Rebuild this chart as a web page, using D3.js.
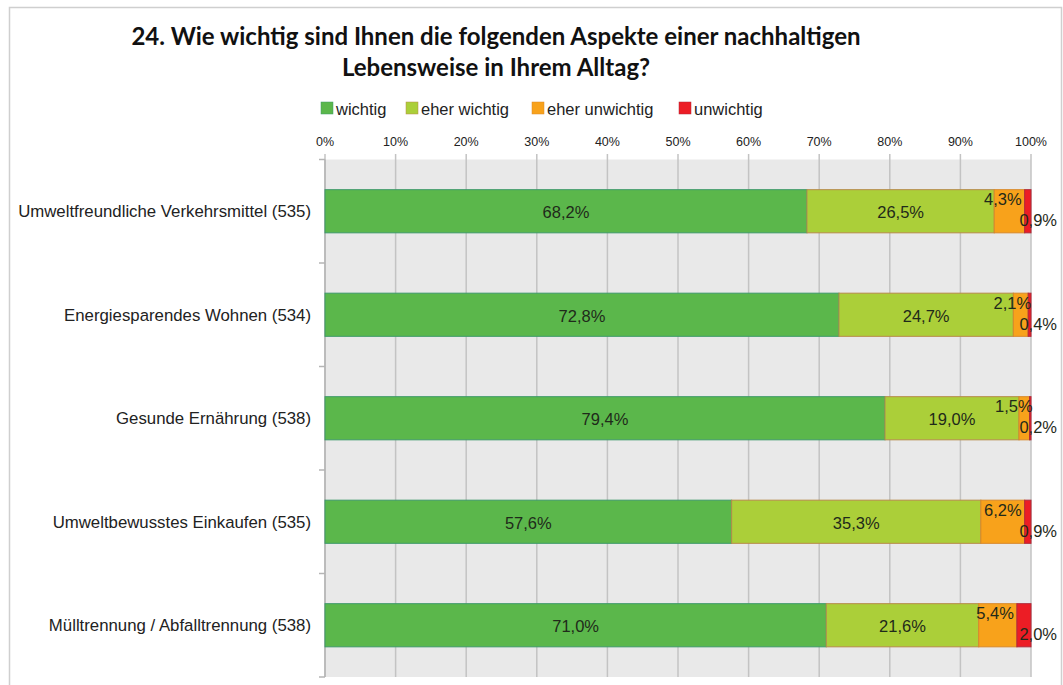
<!DOCTYPE html>
<html>
<head>
<meta charset="utf-8">
<script src="https://cdn.jsdelivr.net/npm/d3@7"></script>
<style>
  body { margin: 0; background: #fff; }
  svg { display: block; }
</style>
</head>
<body>
<svg width="1063" height="685"></svg>
<script>
var svg = d3.select("svg");

var categories = [
    "Umweltfreundliche Verkehrsmittel (535)",
    "Energiesparendes Wohnen (534)",
    "Gesunde Ernährung (538)",
    "Umweltbewusstes Einkaufen (535)",
    "Mülltrennung / Abfalltrennung (538)"
];
var seriesNames = ["wichtig", "eher wichtig", "eher unwichtig", "unwichtig"];
var wichtig = [68.2, 72.8, 79.4, 57.6, 71.0];
var eherWichtig = [26.5, 24.7, 19.0, 35.3, 21.6];
var eherUnwichtig = [4.3, 2.1, 1.5, 6.2, 5.4];
var unwichtig = [0.9, 0.4, 0.2, 0.9, 2.0];
var tickValues = [0, 10, 20, 30, 40, 50, 60, 70, 80, 90, 100];

var colors = ["#5bb74b", "#abcf39", "#f8a21b", "#ec1d25"];
var strokes = ["#3f9a6a", "#b78b4a", "#d9892a", "#b02a3a"];
var font = "'Liberation Sans', Arial, sans-serif";

var rows = categories.map(function (c, i) {
    var vals = [wichtig[i], eherWichtig[i], eherUnwichtig[i], unwichtig[i]];
    var sum = d3.sum(vals);
    var r = {cat: c};
    seriesNames.forEach(function (s, j) { r[s] = vals[j] / sum * 100; r["raw" + j] = vals[j]; });
    return r;
});

var stack = d3.stack().keys(seriesNames)(rows);

var x = d3.scaleLinear().domain([0, 100]).range([325, 1031]);
var y = d3.scaleBand().domain(categories).range([159.5, 677]).paddingInner(0.583).paddingOuter(0.2915);

// frame
svg.append("path")
    .attr("d", "M9.5,690V7.5H1061.5V690")
    .attr("fill", "none")
    .attr("stroke", "#cfcfcf")
    .attr("stroke-width", 1.5);

// title
var title = svg.append("text")
    .attr("text-anchor", "middle")
    .style("font-family", "Lato, 'Open Sans', sans-serif")
    .style("font-weight", "bold")
    .style("font-size", "24px")
    .attr("fill", "#111");
title.append("tspan").attr("x", 496).attr("y", 45).text("24. Wie wichtig sind Ihnen die folgenden Aspekte einer nachhaltigen");
title.append("tspan").attr("x", 496).attr("y", 76).text("Lebensweise in Ihrem Alltag?");

// legend
var legendX = [321, 406, 532, 679];
var legend = svg.append("g").selectAll("g")
    .data(seriesNames)
    .enter().append("g")
    .attr("transform", function (d, i) { return "translate(" + legendX[i] + ",102)"; });
legend.append("rect")
    .attr("width", 12).attr("height", 12)
    .attr("fill", function (d, i) { return colors[i]; })
    .attr("stroke", function (d, i) { return strokes[i]; })
    .attr("stroke-width", 0.5);
legend.append("text")
    .attr("x", 15).attr("y", 13)
    .style("font-family", font)
    .style("font-size", "16.5px")
    .attr("fill", "#222")
    .text(function (d) { return d; });

// plot background
svg.append("rect")
    .attr("x", x(0)).attr("y", 159.5)
    .attr("width", x(100) - x(0)).attr("height", 677 - 159.5)
    .attr("fill", "#e9e9e9");

// grid + top axis
svg.append("g").selectAll("line")
    .data(tickValues)
    .enter().append("line")
    .attr("x1", function (d) { return x(d); })
    .attr("x2", function (d) { return x(d); })
    .attr("y1", 154)
    .attr("y2", 677)
    .attr("stroke", "#c3c3c3")
    .attr("stroke-width", 1.5);

svg.append("g").selectAll("text")
    .data(tickValues)
    .enter().append("text")
    .attr("x", function (d) { return x(d); })
    .attr("y", 146)
    .attr("text-anchor", "middle")
    .style("font-family", font)
    .style("font-size", "12.5px")
    .attr("fill", "#222")
    .text(function (d) { return d + "%"; });

// left axis with ticks between categories
var leftTicks = d3.range(6).map(function (i) { return 159.5 + i * (677 - 159.5) / 5; });
svg.append("line")
    .attr("x1", x(0)).attr("x2", x(0))
    .attr("y1", 159.5).attr("y2", 677)
    .attr("stroke", "#b5b5b5").attr("stroke-width", 1.5);
svg.append("g").selectAll("line")
    .data(leftTicks)
    .enter().append("line")
    .attr("x1", x(0) - 6).attr("x2", x(0))
    .attr("y1", function (d) { return d; })
    .attr("y2", function (d) { return d; })
    .attr("stroke", "#b5b5b5").attr("stroke-width", 1.5);

svg.append("g").selectAll("text")
    .data(categories)
    .enter().append("text")
    .attr("x", 311)
    .attr("y", function (d) { return y(d) + y.bandwidth() / 2 + 6; })
    .attr("text-anchor", "end")
    .style("font-family", font)
    .style("font-size", "16.8px")
    .attr("fill", "#222")
    .text(function (d) { return d; });

// bars
var layers = svg.append("g").selectAll("g")
    .data(stack)
    .enter().append("g")
    .attr("fill", function (d, i) { return colors[i]; })
    .attr("stroke", function (d, i) { return strokes[i]; })
    .attr("stroke-width", 1);

layers.selectAll("rect")
    .data(function (d) { return d; })
    .enter().append("rect")
    .attr("x", function (d) { return x(d[0]); })
    .attr("width", function (d) { return x(d[1]) - x(d[0]); })
    .attr("y", function (d) { return y(d.data.cat); })
    .attr("height", y.bandwidth());

// data labels
function fmt(v) { return v.toFixed(1).replace(".", ",") + "%"; }

var labels = svg.append("g")
    .style("font-family", font)
    .style("font-size", "16.5px")
    .attr("fill", "#1f2a1a");

stack.forEach(function (layer, j) {
    layer.forEach(function (d, i) {
        var cy = y(d.data.cat) + y.bandwidth() / 2;
        var t = labels.append("text").text(fmt(d.data["raw" + j]));
        var w = x(d[1]) - x(d[0]);
        if (j < 2) {
            t.attr("x", (x(d[0]) + x(d[1])) / 2).attr("y", cy + 7).attr("text-anchor", "middle");
        } else if (j === 2) {
            t.attr("x", x(d[1]) + (w < 25 ? 3 : -3)).attr("y", cy - 6).attr("text-anchor", "end");
        } else {
            t.attr("x", x(100) + 26).attr("y", cy + 15).attr("text-anchor", "end");
        }
    });
});
</script>
</body>
</html>
